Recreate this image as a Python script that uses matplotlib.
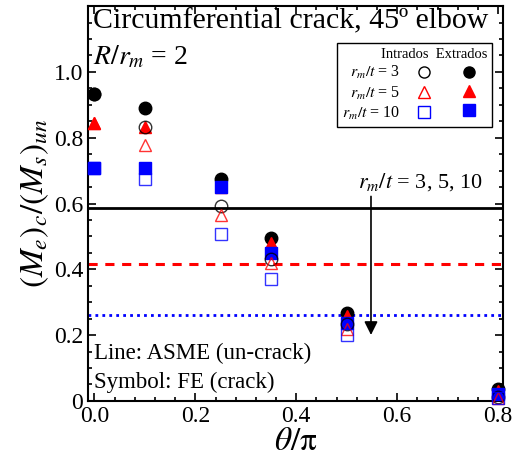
import matplotlib
matplotlib.use('Agg')
import matplotlib.pyplot as plt
from matplotlib.lines import Line2D
from matplotlib.ticker import MultipleLocator

plt.rcParams['font.family'] = ['Liberation Serif', 'DejaVu Serif']
plt.rcParams['mathtext.fontset'] = 'stix'

# theta/pi positions of the FE results
theta = [0.0, 0.1, 0.25, 0.35, 0.5, 0.8]

# FE (crack) results, intrados (open) and extrados (filled)
intra_3 = [0.932, 0.834, 0.592, 0.43, 0.235, 0.012]
intra_5 = [0.846, 0.779, 0.564, 0.42, 0.22, 0.01]
intra_10 = [0.707, 0.673, 0.506, 0.37, 0.20, 0.008]
extra_3 = [0.932, 0.89, 0.675, 0.495, 0.266, 0.035]
extra_5 = [0.846, 0.833, 0.65, 0.48, 0.258, 0.03]
extra_10 = [0.707, 0.708, 0.65, 0.45, 0.236, 0.02]

# ASME (un-crack) levels for r_m/t = 3, 5, 10
asme = [0.586, 0.417, 0.261]

rm_t = ['3', '5', '10']
colors = ['black', 'red', 'blue']
markers = ['o', '^', 's']

fig = plt.figure(figsize=(5.14, 4.70), dpi=100)
ax = fig.add_axes([0.171, 0.147, 0.808, 0.840])

# ASME lines
ax.axhline(asme[0], color='black', lw=2.0, ls='-')
ax.axhline(asme[1], color='red', lw=2.2, ls=(0, (3, 2.5)))
ax.axhline(asme[2], color='blue', lw=2.0, ls=(0, (1, 1.5)))

intra = [intra_3, intra_5, intra_10]
extra = [extra_3, extra_5, extra_10]
ms = 9
for i in range(3):
    ax.plot(theta, extra[i], ls='none', marker=markers[i], ms=ms,
            color=colors[i], mec=colors[i], clip_on=False, zorder=3)
for i in range(3):
    ax.plot(theta, intra[i], ls='none', marker=markers[i], ms=ms,
            mfc='none', mec=colors[i], mew=1.0, alpha=0.8, clip_on=False, zorder=4)

# legend: open / filled columns
handles = []
labels = []
for i in range(3):
    handles.append(Line2D([], [], ls='none', marker=markers[i], ms=8,
                          mfc='none', mec=colors[i], mew=1.0))
    labels.append(r'$r_m/t$ = ' + rm_t[i])
for i in range(3):
    handles.append(Line2D([], [], ls='none', marker=markers[i], ms=8,
                          color=colors[i]))
    labels.append('')
leg = ax.legend(handles, labels, ncol=2, markerfirst=False, loc='upper right',
                bbox_to_anchor=(0.974, 0.906), borderaxespad=0, fontsize=11.5,
                title='Intrados  Extrados', title_fontsize=10.5, alignment='right',
                fancybox=False, edgecolor='black', framealpha=1,
                handletextpad=0.31, columnspacing=0.12, labelspacing=0.2,
                borderpad=0.31, handlelength=2.35)
leg.get_frame().set_linewidth(1.0)

# annotations
ax.text(0.012, 0.995, 'Circumferential crack, 45º elbow', transform=ax.transAxes,
        fontsize=21.5, ha='left', va='top')
ax.text(0.012, 0.905, r'$R/r_m$ = 2', transform=ax.transAxes,
        fontsize=20, ha='left', va='top')
ax.text(0.015, 0.145, 'Line: ASME (un-crack)', fontsize=16.5, ha='left', va='center',
        transform=ax.get_yaxis_transform())
ax.text(0.015, 0.057, 'Symbol: FE (crack)', fontsize=16.5, ha='left', va='center',
        transform=ax.get_yaxis_transform())
ax.text(0.522, 0.664, r'$r_m/t$ = 3, 5, 10', fontsize=16, ha='left', va='center')
ax.annotate('', xy=(0.548, 0.192), xytext=(0.548, 0.63),
            arrowprops=dict(arrowstyle='-|>', color='black', lw=1.2, mutation_scale=20))

ax.set_xlim(-0.013, 0.81)
ax.set_ylim(0, 1.2)
ax.set_xticks([0.0, 0.2, 0.4, 0.6, 0.8])
ax.set_xticklabels(['0.0', '0.2', '0.4', '0.6', '0.8'])
ax.set_yticks([0, 0.2, 0.4, 0.6, 0.8, 1.0])
ax.set_yticklabels(['0', '0.2', '0.4', '0.6', '0.8', '1.0'])
ax.xaxis.set_minor_locator(MultipleLocator(0.04))
ax.yaxis.set_minor_locator(MultipleLocator(0.05))
ax.tick_params(which='both', direction='in', top=True, right=True, width=1.2)
ax.tick_params(which='major', length=6, labelsize=17)
ax.tick_params(which='minor', length=3)
for s in ax.spines.values():
    s.set_linewidth(1.5)

ax.set_xlabel(r'$\theta/\mathrm{\pi}$', fontsize=24, labelpad=0)
ax.set_ylabel(r'$(M_e)_c/(M_s)_{un}$', fontsize=24, labelpad=2)

fig.savefig('out.png', dpi=100)
